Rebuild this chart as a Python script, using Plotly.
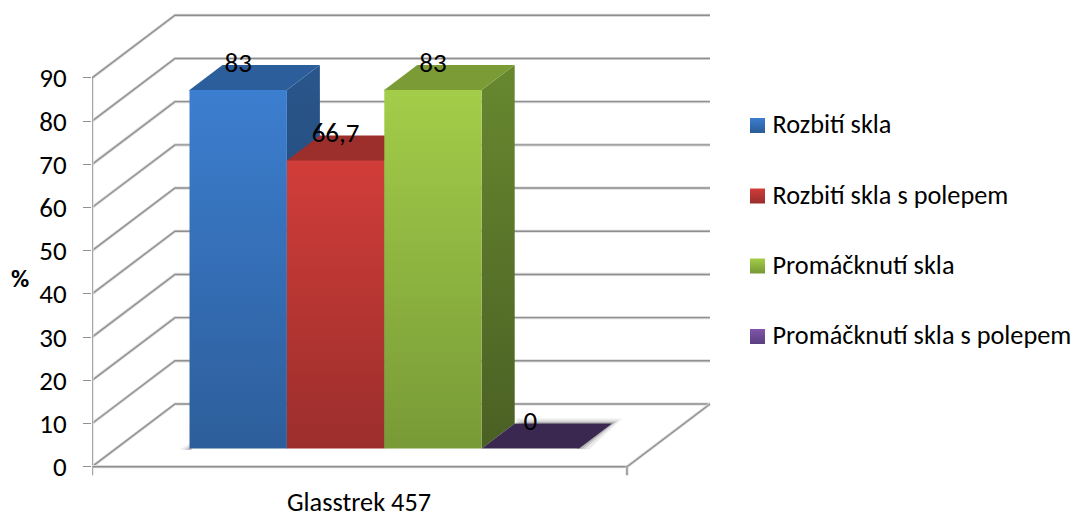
import plotly.graph_objects as go

# Chart data
categories = ["Glasstrek 457"]
series_names = ["Rozbití skla", "Rozbití skla s polepem", "Promáčknutí skla", "Promáčknutí skla s polepem"]
series_values = [83, 66.7, 83, 0]
tick_values = [0, 10, 20, 30, 40, 50, 60, 70, 80, 90]

# Face colours per series: front (top, bottom), cap, side (top, bottom), legend swatch (top, bottom)
front_colors = [("#3c7ecf", "#2d5e9b"), ("#d13d39", "#9b2e2c"), ("#a3cd49", "#789a37"), ("#3b2850", "#3b2850")]
cap_colors = ["#2c5e9c", "#9c2e2c", "#7a9b36", "#3b2850"]
side_colors = [("#29568c", "#1f4169"), ("#8a2826", "#6e1f1e"), ("#68882f", "#4a6024"), ("#3b2850", "#3b2850")]
swatch_colors = [("#3c7ecf", "#2a5a96"), ("#d13d39", "#982d2b"), ("#a3cd49", "#769835"), ("#8055aa", "#5a3e80")]

# Scene geometry; the x axis runs in screen-like units, the y axis in percent
PX_PER_UNIT = 4.319
AXIS_X = 92
FLOOR_Y_PX = 466.7
WALL_DX = 83
WALL_DY = 62.7 / PX_PER_UNIT
FLOOR_RIGHT = 627
TICK_DROP = 8.5 / PX_PER_UNIT
BAR_LEFT = 189.5
BAR_WIDTH = 97.4
BAR_BASE = 18.2 / PX_PER_UNIT
BAR_DX = 33
BAR_DY = 25 / PX_PER_UNIT
SEAM = 1 / PX_PER_UNIT
LINE_COLOR = "#8f8f8f"
HALO_COLOR = "#dcdcdc"
FONT = "Carlito, Lato, sans-serif"
FONT_SIZE = 26.3
NUMBER_SIZE = 27


def py(pixel):
    """Convert a screen row into the percent scale of the y axis."""
    return (FLOOR_Y_PX - pixel) / PX_PER_UNIT


fig = go.Figure()


def polyline(xs, ys):
    for color, width in ((HALO_COLOR, 3.2), (LINE_COLOR, 1.4)):
        fig.add_trace(go.Scatter(x=xs, y=ys, mode="lines", line=dict(color=color, width=width),
                                 hoverinfo="skip", showlegend=False))


def face(xs, ys, top, bottom=None):
    bottom = bottom or top
    fig.add_trace(go.Scatter(
        x=xs + xs[:1], y=ys + ys[:1], mode="lines", fill="toself", line=dict(width=0),
        fillgradient=dict(type="vertical", colorscale=[[0, bottom], [1, top]]),
        hoverinfo="skip", showlegend=False))


def shadow(xs, ys, opacity):
    fig.add_trace(go.Scatter(
        x=xs + xs[:1], y=ys + ys[:1], mode="lines", fill="toself", line=dict(width=0),
        fillcolor=f"rgba(80,80,80,{opacity})", hoverinfo="skip", showlegend=False))


# Walls: side gridlines running back and across, plus the floor outline
for tick in tick_values:
    polyline([AXIS_X, AXIS_X + WALL_DX, 710], [tick, tick + WALL_DY, tick + WALL_DY])
polyline([AXIS_X, AXIS_X], [tick_values[0] - TICK_DROP, tick_values[-1]])
polyline([AXIS_X, FLOOR_RIGHT, AXIS_X + 618], [0, 0, WALL_DY])
polyline([FLOOR_RIGHT, FLOOR_RIGHT], [0, -TICK_DROP])

# Soft shadow on the floor around the bars
right_end = BAR_LEFT + BAR_WIDTH * len(series_values)
for grow, opacity in ((10, 0.10), (6, 0.16), (3, 0.25)):
    g = grow / PX_PER_UNIT
    shadow([BAR_LEFT - grow, BAR_LEFT + 2, BAR_LEFT + 2],
           [BAR_BASE - 0.3, BAR_BASE - 0.3, BAR_BASE + g * 0.6], opacity)
    shadow([right_end - BAR_WIDTH + BAR_DX, right_end + BAR_DX + grow, right_end + grow, right_end],
           [BAR_BASE + BAR_DY + g * 0.5, BAR_BASE + BAR_DY + g * 0.5, BAR_BASE - g * 0.1, BAR_BASE - g * 0.1],
           opacity)

# Bars, painted from left to right so each one overlaps its neighbour's side
for i, value in enumerate(series_values):
    x0 = BAR_LEFT + BAR_WIDTH * i
    x1 = x0 + BAR_WIDTH
    top_y = BAR_BASE + value
    if value > 0:
        face([x1, x1 + BAR_DX, x1 + BAR_DX, x1],
             [BAR_BASE, BAR_BASE + BAR_DY, top_y + BAR_DY, top_y], *side_colors[i])
    seam = SEAM if value > 0 else 0
    face([x0, x0 + BAR_DX, x1 + BAR_DX, x1, x1, x0],
         [top_y, top_y + BAR_DY, top_y + BAR_DY, top_y, top_y - seam, top_y - seam], cap_colors[i])
    if value > 0:
        face([x0, x1, x1, x0], [BAR_BASE, BAR_BASE, top_y, top_y], *front_colors[i])

# Value labels sit at the rear edge of each bar's cap
fig.add_trace(go.Scatter(
    x=[BAR_LEFT + BAR_WIDTH * (i + 0.5) for i in range(len(series_values))],
    y=[BAR_BASE + v + BAR_DY for v in series_values],
    mode="text", text=[f"{v:g}".replace(".", ",") for v in series_values],
    textposition="middle center", textfont=dict(family=FONT, size=NUMBER_SIZE, color="#000000"),
    hoverinfo="skip", showlegend=False, cliponaxis=False))

# Legend column on the right
legend_rows = [125.5, 196, 266, 336.5]
for name, row, (top, bottom) in zip(series_names, legend_rows, swatch_colors):
    face([750, 765, 765, 750], [py(row + 7.5), py(row + 7.5), py(row - 7.5), py(row - 7.5)], top, bottom)
fig.add_trace(go.Scatter(
    x=[772.5] * len(series_names), y=[py(r + 1) for r in legend_rows],
    mode="text", text=series_names, textposition="middle right",
    textfont=dict(family=FONT, size=FONT_SIZE, color="#000000"),
    hoverinfo="skip", showlegend=False, cliponaxis=False))

# Category label under the floor
fig.add_trace(go.Scatter(
    x=[359], y=[py(504)], mode="text", text=categories, textposition="middle center",
    textfont=dict(family=FONT, size=FONT_SIZE, color="#000000"),
    hoverinfo="skip", showlegend=False, cliponaxis=False))

fig.add_annotation(
    xref="paper", yref="y", x=(20 - AXIS_X) / (1076 - AXIS_X), y=py(278), text="<b>%</b>",
    xanchor="center", showarrow=False, font=dict(family=FONT, size=25, color="#000000"))

fig.update_layout(
    width=1076, height=517, autosize=False,
    margin=dict(l=AXIS_X, r=0, t=0, b=0),
    paper_bgcolor="#ffffff", plot_bgcolor="#ffffff",
    showlegend=False,
    xaxis=dict(range=[AXIS_X, 1076], visible=False, fixedrange=True),
    yaxis=dict(
        range=[py(517), py(0)], tickvals=tick_values, ticks="outside", ticklen=8,
        tickwidth=1.4, tickcolor=LINE_COLOR, ticklabelstandoff=11,
        showgrid=False, zeroline=False, showline=False, fixedrange=True,
        tickfont=dict(family=FONT, size=NUMBER_SIZE, color="#000000")),
)

fig.write_html("out.html", config={"displayModeBar": False})
